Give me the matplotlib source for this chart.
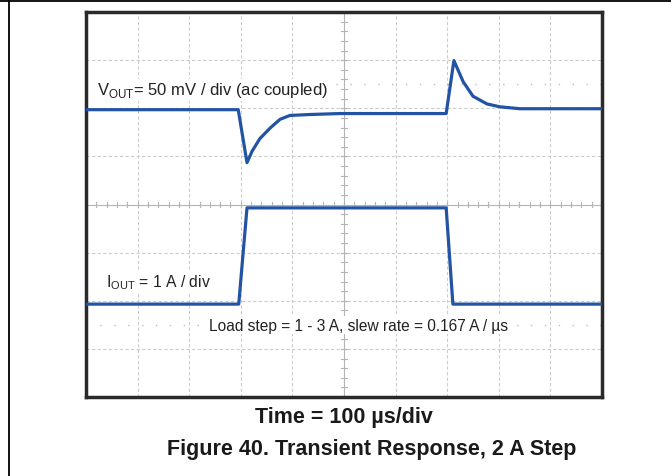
import numpy as np
import matplotlib
matplotlib.use('Agg')
import matplotlib.pyplot as plt
from matplotlib.lines import Line2D

plt.rcParams['font.family'] = ['Liberation Sans', 'DejaVu Sans']
plt.rcParams['mathtext.fontset'] = 'custom'
plt.rcParams['mathtext.rm'] = 'Liberation Sans'

# Scope traces (time in us)
time_v = [0, 295, 312, 322, 337, 357, 376, 395, 434, 492, 698, 713, 731, 750, 777, 802, 841, 1000]
vout_mv = [0, 0, -55, -43, -30, -19, -10, -6, -5, -4, -4, 51, 29, 14, 6, 3, 1, 1]

time_i = [0, 296, 312, 698, 711, 1000]
iout_a = [1, 1, 3, 3, 1, 1]

# Scope settings
v_per_div = 50.0   # mV/div
i_per_div = 1.0    # A/div
t_per_div = 100.0  # us/div
v_pos = 5.97       # channel position (div)
i_pos = 0.93

trace_color = '#2353a3'

fig = plt.figure(figsize=(6.71, 4.77), dpi=100)
ax = fig.add_axes([86 / 671, 79 / 477, 516 / 671, 385 / 477])

ax.set_xlim(0, 10 * t_per_div)
ax.set_ylim(0, 8)

# graticule
for k in range(1, 10):
    if k != 5:
        ax.axvline(k * t_per_div, color='#cccccc', lw=0.8, ls=(0, (3, 2)), zorder=1)
for k in range(1, 8):
    if k != 4:
        ax.axhline(k, color='#cccccc', lw=0.8, ls=(0, (3, 2)), zorder=1)
ax.axvline(5 * t_per_div, color='#b4b4b4', lw=0.8, zorder=1)
ax.axhline(4, color='#b4b4b4', lw=0.8, zorder=1)

# minor ticks on center lines
for yy in np.arange(0.2, 8, 0.2):
    ax.plot([5 * t_per_div - 6, 5 * t_per_div + 6], [yy, yy], color='#b4b4b4', lw=0.8, zorder=1)
for xx in np.arange(20, 1000, 20):
    ax.plot([xx, xx], [4 - 0.06, 4 + 0.06], color='#b4b4b4', lw=0.8, zorder=1)

# sparse marker lines
ax.axhline(6.5, color='#bcbcbc', lw=1.0, ls=(0, (1, 9)), zorder=1)
ax.axhline(1.49, color='#bcbcbc', lw=1.0, ls=(0, (1, 9)), zorder=1)

v_div = np.array(vout_mv) / v_per_div + v_pos
i_div = np.array(iout_a) / i_per_div + i_pos
ax.plot(time_v, v_div, color=trace_color, lw=2.3, zorder=3)
ax.plot(time_i, i_div, color=trace_color, lw=2.3, zorder=3)

box = dict(facecolor='white', edgecolor='none', pad=1)
ax.text(21, 6.38, r'V$_{\mathregular{OUT}}$= 50 mV / div (ac coupled)', fontsize=12,
        color='#222222', va='center', ha='left', bbox=box, zorder=2)
ax.text(39, 2.4, r'I$_{\mathregular{OUT}}$ = 1 A / div', fontsize=11.3,
        color='#222222', va='center', ha='left', bbox=box, zorder=2)
ax.text(238, 1.49, 'Load step = 1 - 3 A, slew rate = 0.167 A / \u00b5s', fontsize=11.2,
        color='#222222', va='center', ha='left', bbox=box, zorder=2)

ax.set_xticks([])
ax.set_yticks([])
for s in ax.spines.values():
    s.set_linewidth(2.5)
    s.set_color('#2a2a2a')

fig.text(344 / 671, 1 - 418 / 477, 'Time = 100 \u00b5s/div', fontsize=15.5, fontweight='bold',
         ha='center', va='center', color='#1a1a1a')
fig.text(372 / 671, 1 - 450 / 477, 'Figure 40. Transient Response, 2 A Step', fontsize=15.5,
         fontweight='bold', ha='center', va='center', color='#1a1a1a')

# page border lines
fig.add_artist(Line2D([0, 1], [1 - 1.5 / 477, 1 - 1.5 / 477], color='black', lw=1.3))
fig.add_artist(Line2D([8.5 / 671, 8.5 / 671], [0, 1 - 1.5 / 477], color='black', lw=1.3))

fig.savefig('out.png', dpi=100, facecolor='white')
